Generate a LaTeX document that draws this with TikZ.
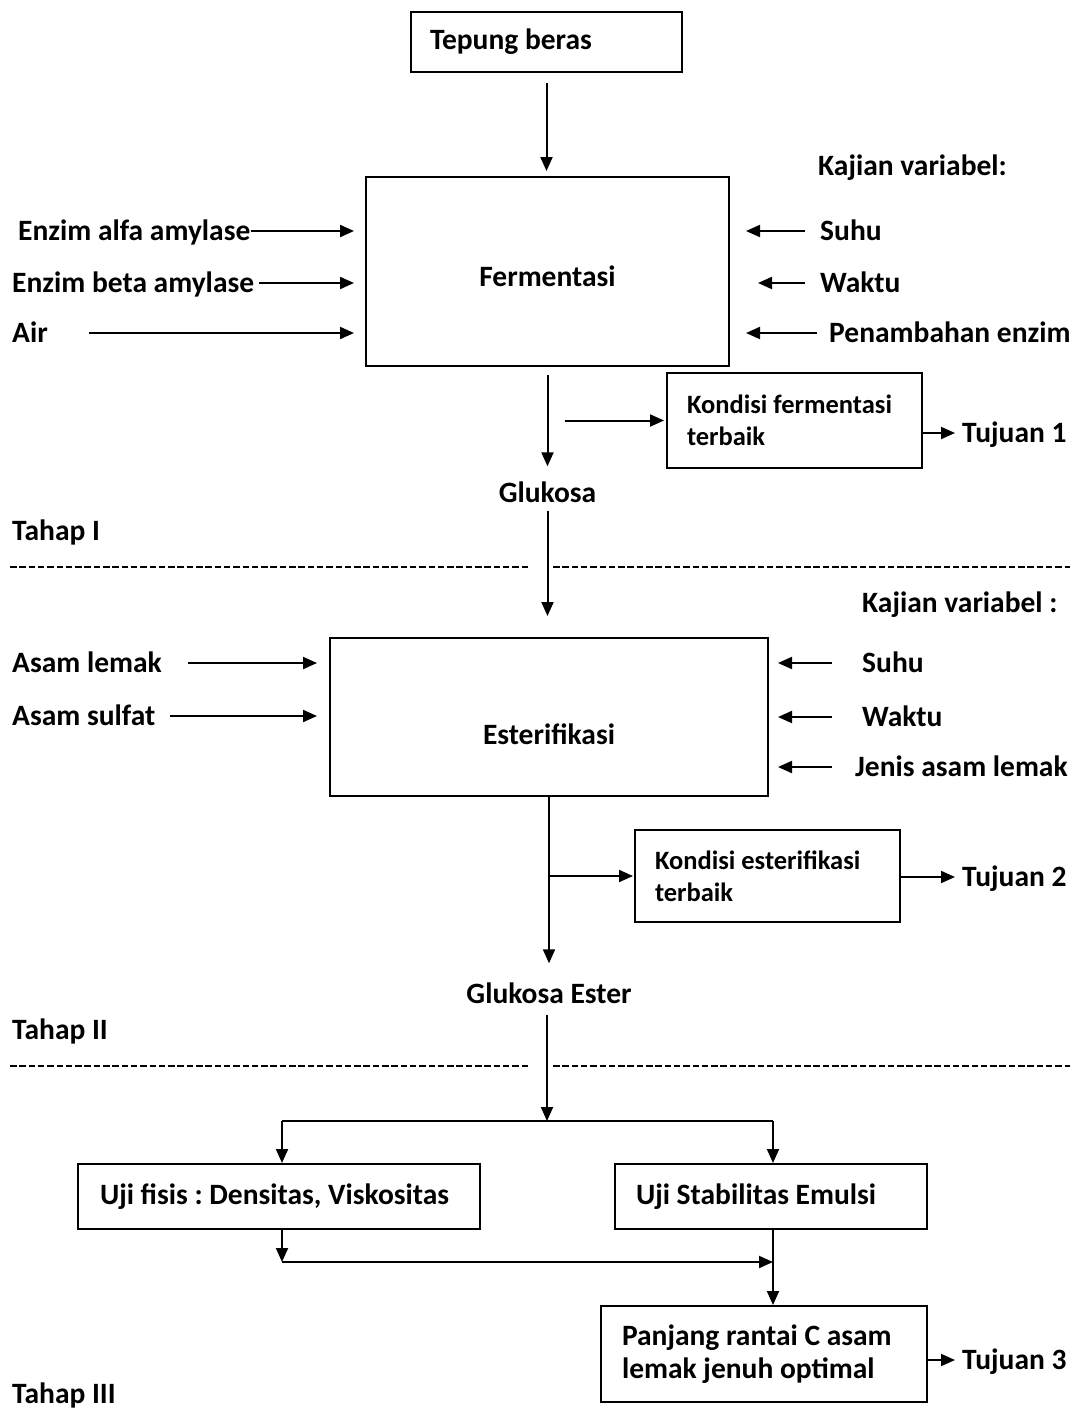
\documentclass[tikz,border=0pt]{standalone}
\usepackage{fontspec}
\setmainfont{Carlito}
\usetikzlibrary{arrows.meta}
\frenchspacing
\begin{document}
\begin{tikzpicture}[x=1pt,y=-1pt,
  font=\fontsize{29.5}{33}\selectfont\bfseries,
  lbl/.style={anchor=west, inner sep=0pt, text height=19pt, text depth=0pt},
  ctr/.style={anchor=center, inner sep=0pt, text height=19pt, text depth=0pt},
  box/.style={draw, line width=2pt, inner sep=0pt},
  lbox/.style={box, align=flush left},
  small/.style={font=\fontsize{26.5}{32}\selectfont\bfseries},
  arr/.style={line width=2pt, -{Triangle[length=14pt,width=12pt]}},
  ln/.style={line width=2pt},
  sep/.style={line width=2.8pt, dash pattern=on 6.5pt off 2.8pt},
]
\useasboundingbox (0,0) rectangle (1074,1409);

% ---------- Tahap I ----------
\node[lbox, minimum width=271pt, minimum height=60pt, inner xsep=19pt, text width=233pt] (tep) at (546.5,42) {\mbox{Tepung beras}};
\node[box, minimum width=363pt, minimum height=189pt] (fer) at (547.5,271.5) {};
\node[ctr] (ferT) at (547.5,277) {Fermentasi};
\draw[arr, shorten <=10pt, shorten >=5pt] (tep.south) -- (tep.south |- fer.north);

\node[lbl] (enz1) at (18,231) {Enzim alfa amylase};
\node[lbl] (enz2) at (12,283) {Enzim beta amylase};
\node[lbl] (air) at (12,333) {Air};
\draw[arr, shorten >=11pt] (enz1.east) -- (enz1.east -| fer.west);
\draw[arr, shorten >=11pt] ([xshift=5pt]enz2.east) -- (enz2.east -| fer.west);
\draw[arr, shorten >=11pt] ([xshift=41pt]air.east) -- (air.east -| fer.west);

\node[lbl] (kaj1) at (818,166) {Kajian variabel:};
\node[lbl] (suhu1) at (820,231) {Suhu};
\node[lbl] (wak1) at (820,283) {Waktu};
\node[lbl] (pen1) at (829,333) {Penambahan enzim};
\draw[arr, shorten >=16pt] ([xshift=-15pt]suhu1.west) -- (suhu1.west -| fer.east);
\draw[arr, shorten >=28pt] ([xshift=-15pt]wak1.west) -- (wak1.west -| fer.east);
\draw[arr, shorten >=16pt] ([xshift=-12pt]pen1.west) -- (pen1.west -| fer.east);

\node[lbox, small, minimum width=255pt, minimum height=95pt, inner xsep=20pt, text width=215pt] (kf) at (794.5,420.5) {Kondisi fermentasi\\terbaik};
\node[ctr] (glu) at (547.5,493) {Glukosa};
\draw[arr, shorten <=8pt, shorten >=17pt] (fer.south) -- (glu.north);
\draw[arr, shorten <=17pt, shorten >=2pt] (fer.south |- kf.west) -- (kf.west);
\node[lbl] (tj1) at (962,433) {Tujuan 1};
\draw[arr, shorten >=7pt] (kf.east |- tj1.west) -- (tj1.west);

\node[lbl] (th1) at (12,531) {Tahap I};
\coordinate (d1a) at (10,567);
\coordinate (d1b) at (529,567);
\coordinate (d1c) at (553,567);
\coordinate (d1d) at (1070,567);
\draw[sep] (d1a) -- (d1b);
\draw[sep] (d1c) -- (d1d);

% ---------- Tahap II ----------
\node[box, minimum width=438pt, minimum height=158pt] (est) at (549,717) {};
\node[ctr] (estT) at (549,735) {Esterifikasi};
\draw[arr, shorten <=8pt, shorten >=21pt] (glu.south) -- (glu.south |- est.north);

\node[lbl] (asl) at (12,663) {Asam lemak};
\node[lbl] (ass) at (12,716) {Asam sulfat};
\draw[arr, shorten >=12pt] ([xshift=26pt]asl.east) -- (asl.east -| est.west);
\draw[arr, shorten >=12pt] ([xshift=15pt]ass.east) -- (ass.east -| est.west);

\node[lbl] (kaj2) at (862,603) {Kajian variabel :};
\node[lbl] (suhu2) at (862,663) {Suhu};
\node[lbl] (wak2) at (862,717) {Waktu};
\node[lbl] (jen2) at (855,767) {Jenis asam lemak};
\draw[arr, shorten >=9pt] (suhu2.west -| jen2.west) ++(-23pt,0) -- (suhu2.west -| est.east);
\draw[arr, shorten >=9pt] (wak2.west -| jen2.west) ++(-23pt,0) -- (wak2.west -| est.east);
\draw[arr, shorten >=9pt] ([xshift=-23pt]jen2.west) -- (jen2.west -| est.east);

\node[lbox, small, minimum width=265pt, minimum height=92pt, inner xsep=20pt, text width=225pt] (ke) at (767.5,876) {Kondisi esterifikasi\\terbaik};
\node[ctr] (glue) at (549,994) {Glukosa Ester};
\draw[arr, shorten >=21pt] (est.south) -- (glue.north);
\draw[arr, shorten >=1pt] (est.south |- ke.west) -- (ke.west);
\node[lbl] (tj2) at (962,877) {Tujuan 2};
\draw[arr, shorten >=7pt] (ke.east |- tj2.west) -- (tj2.west);

\node[lbl] (th2) at (12,1030) {Tahap II};
\coordinate (d2a) at (10,1066);
\coordinate (d2b) at (529,1066);
\coordinate (d2c) at (553,1066);
\coordinate (d2d) at (1070,1066);
\draw[sep] (d2a) -- (d2b);
\draw[sep] (d2c) -- (d2d);

% ---------- Tahap III ----------
\node[lbox, minimum width=402pt, minimum height=65pt, inner xsep=22pt, text width=358pt] (uf) at (279,1196.5) {\mbox{Uji fisis : Densitas, Viskositas}};
\node[lbox, minimum width=312pt, minimum height=65pt, inner xsep=21pt, text width=270pt] (us) at (771,1196.5) {\mbox{Uji Stabilitas Emulsi}};
\coordinate (spl) at (547,1121);
\coordinate (splL) at (282,1121);
\coordinate (splR) at (773,1121);
\draw[arr, shorten <=11pt] (glue.south -| spl) -- (spl);
\draw[ln] (splL) -- (splR);
\draw[arr] (splL) -- (splL |- uf.north);
\draw[arr] (splR) -- (splR |- us.north);

\node[lbox, minimum width=326pt, minimum height=96pt, inner xsep=21pt, text width=284pt] (pj) at (764,1354) {Panjang rantai C asam\\lemak jenuh optimal};
\coordinate (mrgL) at (282,1262);
\coordinate (mrgR) at (773,1262);
\draw[arr] (splL |- uf.south) -- (mrgL);
\draw[arr] (mrgL) -- (mrgR);
\draw[arr] (splR |- us.south) -- (splR |- pj.north);
\node[lbl] (tj3) at (962,1360) {Tujuan 3};
\draw[arr, shorten >=7pt] (pj.east |- tj3.west) -- (tj3.west);

\node[lbl] (th3) at (12,1394) {Tahap III};
\end{tikzpicture}
\end{document}
